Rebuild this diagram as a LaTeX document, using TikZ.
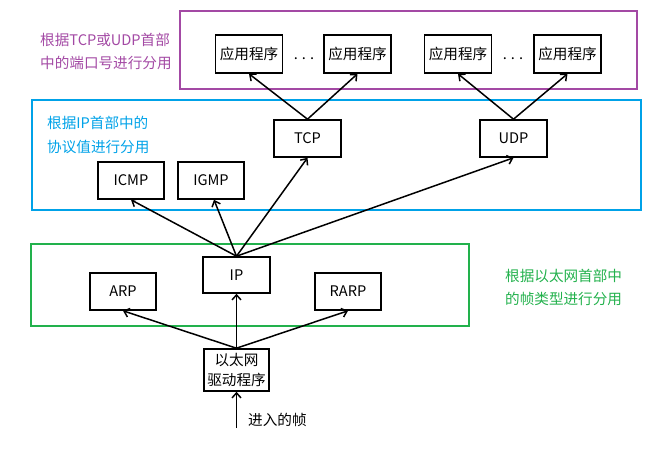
\documentclass[tikz,border=0pt]{standalone}
\usepackage{fontspec}
\setmainfont{Noto Sans CJK SC}
\usetikzlibrary{arrows.meta}
\definecolor{ppurple}{HTML}{A349A4}
\definecolor{pblue}{HTML}{00A2E8}
\definecolor{pgreen}{HTML}{22B14C}
\begin{document}
\begin{tikzpicture}[x=1pt,y=-1pt,
  font=\fontsize{14.6}{18}\selectfont,
  box/.style={draw=black,line width=1.6pt,minimum width=67pt,minimum height=37pt,inner sep=0pt,align=center},
  layer/.style={line width=1.3pt},
  lbl/.style={anchor=west,align=left,inner sep=0pt},
  arr/.style={-{Straight Barb[length=5pt,width=9pt]},line width=1.5pt}]
\useasboundingbox (0,0) rectangle (669,449);
% layer frames
\draw[layer,draw=ppurple] (180,11) rectangle (637,89);
\draw[layer,draw=pblue] (32,100) rectangle (641,210);
\draw[layer,draw=pgreen] (31,244) rectangle (469,326);
% labels
\node[lbl,text=ppurple] (lp1) at (40,40) {根据TCP或UDP首部};
\node[lbl,text=ppurple] (lp2) at (40,63) {中的端口号进行分用};
\node[lbl,text=pblue] (lb1) at (47,123) {根据IP首部中的};
\node[lbl,text=pblue] (lb2) at (47,147) {协议值进行分用};
\node[lbl,text=pgreen] (lg1) at (505,276) {根据以太网首部中};
\node[lbl,text=pgreen] (lg2) at (505,299) {的帧类型进行分用};
% nodes
\node[box,minimum height=38pt] (a1) at (249,54) {应用程序};
\node[box,minimum height=38pt] (a2) at (357.5,54) {应用程序};
\node[box,minimum height=38pt] (a3) at (458,54) {应用程序};
\node[box,minimum height=38pt] (a4) at (567.5,54) {应用程序};
\node (d1) at (304,59) {.\hspace{4pt}.\hspace{4pt}.};
\node (d2) at (513,59) {.\hspace{4pt}.\hspace{4pt}.};
\node[box] (tcp) at (307.5,138.5) {TCP};
\node[box] (udp) at (513.5,138.5) {UDP};
\node[box,minimum width=66pt] (icmp) at (131,180.5) {ICMP};
\node[box,minimum width=66pt] (igmp) at (211,180.5) {IGMP};
\node[box,minimum height=36pt] (ip) at (236.5,275) {IP};
\node[box,minimum width=66pt] (arp) at (123,291.5) {ARP};
\node[box,minimum width=66pt] (rarp) at (348,291.5) {RARP};
\node[box,minimum width=65pt,minimum height=42pt,font=\fontsize{14.6}{20}\selectfont] (drv) at (236.5,370) {以太网\\驱动程序};
\coordinate (in) at (236.5,428);
\node[lbl] (inl) at (248,420) {进入的帧};
% connectors
\draw[arr] (tcp.north) -- (a1.south);
\draw[arr] (tcp.north) -- (a2.south);
\draw[arr] (udp.north) -- (a3.south);
\draw[arr] (udp.north) -- (a4.south);
\draw[arr] (ip.north) -- (icmp.south);
\draw[arr] (ip.north) -- ([xshift=3pt]igmp.south);
\draw[arr] (ip.north) -- (tcp.south);
\draw[arr] (ip.north) -- (udp.south);
\draw[arr] (drv.north) -- (arp.south);
\draw[arr] (drv.north) -- (ip.south);
\draw[arr] (drv.north) -- (rarp.south);
\draw[arr] (in) -- (drv.south);
\end{tikzpicture}
\end{document}
